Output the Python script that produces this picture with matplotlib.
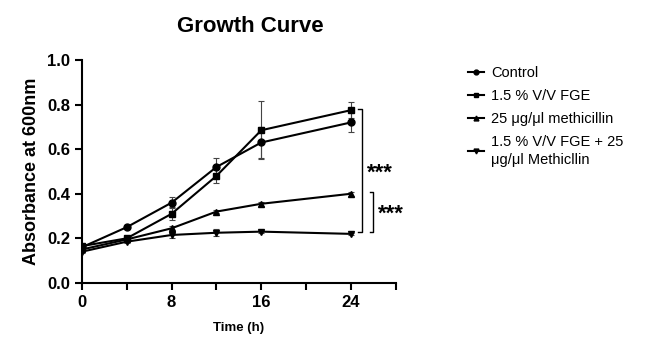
import matplotlib
matplotlib.use('Agg')
import matplotlib.pyplot as plt

plt.rcParams['font.family'] = ['Liberation Sans', 'DejaVu Sans']

# data
time = [0, 4, 8, 12, 16, 24]
control = [0.16, 0.25, 0.36, 0.52, 0.63, 0.72]
control_err = [0.01, 0.008, 0.025, 0.04, 0.07, 0.045]
fge = [0.165, 0.20, 0.31, 0.48, 0.685, 0.775]
fge_err = [0.01, 0.008, 0.03, 0.03, 0.13, 0.035]
meth = [0.15, 0.195, 0.245, 0.32, 0.355, 0.40]
meth_err = [0.008, 0.005, 0.01, 0.008, 0.008, 0.008]
combo = [0.14, 0.185, 0.215, 0.225, 0.23, 0.22]
combo_err = [0.008, 0.005, 0.015, 0.015, 0.008, 0.006]
labels = ["Control", "1.5 % V/V FGE", "25 \u03bcg/\u03bcl methicillin",
          "1.5 % V/V FGE + 25\n\u03bcg/\u03bcl Methicllin"]

fig = plt.figure(figsize=(6.5, 3.51), dpi=100)
ax = fig.add_axes([0.126, 0.194, 0.483, 0.635])

series = [(control, control_err, 'o'), (fge, fge_err, 's'),
          (meth, meth_err, '^'), (combo, combo_err, 'v')]
for (y, e, m), lab in zip(series, labels):
    ax.errorbar(time, y, yerr=e, color='black', marker=m, markersize=5,
                linewidth=1.5, elinewidth=0.8, capsize=2.5, capthick=0.8,
                ecolor='#444444', label=lab)

# significance brackets
def bracket(x, y0, y1, text, ty):
    ax.plot([x - 0.35, x, x, x - 0.35], [y1, y1, y0, y0], color='black',
            linewidth=1, clip_on=False)
    ax.text(x + 0.4, ty, text, fontsize=16, fontweight='bold',
            va='center', ha='left')

bracket(25.0, 0.23, 0.78, '***', 0.49)
bracket(26.0, 0.23, 0.41, '***', 0.31)

ax.set_xlim(0, 28)
ax.set_ylim(0, 1.0)
ax.set_xticks([0, 8, 16, 24])
ax.set_xticks([4, 12, 20, 28], minor=True)
ax.set_yticks([0, 0.2, 0.4, 0.6, 0.8, 1.0])
ax.set_yticklabels(['0.0', '0.2', '0.4', '0.6', '0.8', '1.0'])
for s in ['top', 'right']:
    ax.spines[s].set_visible(False)
for s in ['left', 'bottom']:
    ax.spines[s].set_linewidth(1.5)
ax.tick_params(which='both', width=1.5, length=5)
ax.tick_params(labelsize=12)
for t in ax.get_xticklabels() + ax.get_yticklabels():
    t.set_fontweight('bold')

ax.set_xlabel('Time (h)', fontsize=9.5, fontweight='bold', labelpad=9)
ax.set_ylabel('Absorbance at 600nm', fontsize=13, fontweight='bold', labelpad=5)
ax.set_title('Growth Curve', fontsize=16, fontweight='bold', pad=20, x=0.535)

handles, labs = ax.get_legend_handles_labels()
handles = [h[0] for h in handles]
leg = fig.legend(handles, labs, loc='upper left', bbox_to_anchor=(0.7, 0.85),
                 frameon=False, fontsize=10.5, handlelength=1.1, markerscale=0.7,
                 handletextpad=0.5, labelspacing=0.62)
for t in leg.get_texts():
    t.set_linespacing(1.35)

fig.savefig('out.png', dpi=100)
